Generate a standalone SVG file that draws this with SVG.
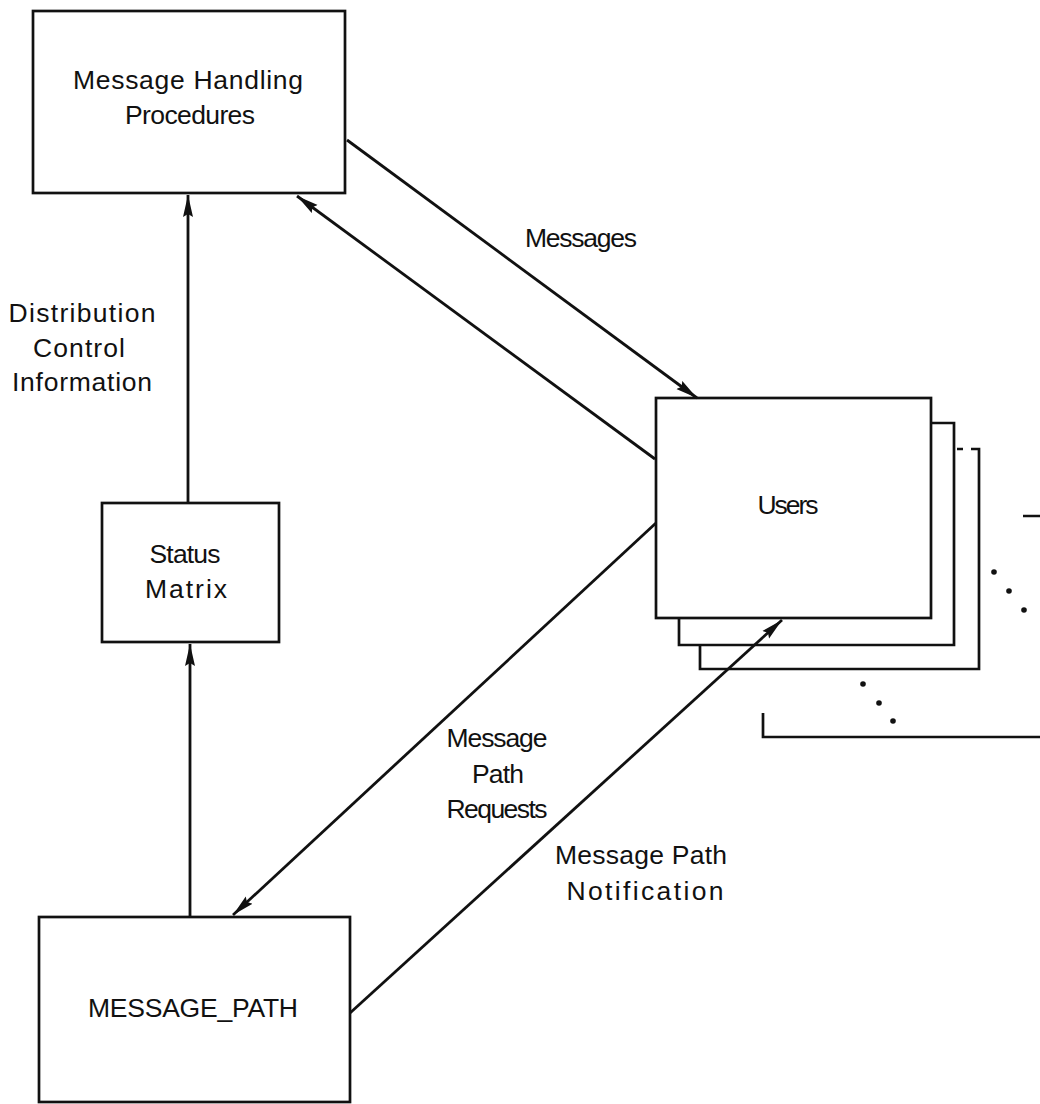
<svg xmlns="http://www.w3.org/2000/svg" width="1040" height="1104" viewBox="0 0 1040 1104">
  <defs>
    <style>
      .box { fill: none; stroke: #111; stroke-width: 2.7; }
      .edge { fill: none; stroke: #111; stroke-width: 2.8; }
      .lbl { font-family: "Liberation Sans", Arial, sans-serif; font-size: 26.5px; fill: #111; text-anchor: middle; }
      .dot { fill: #111; }
    </style>
    <marker id="arrow" markerUnits="userSpaceOnUse" markerWidth="24" markerHeight="12" refX="22" refY="6" orient="auto">
      <path d="M0,1 L22,6 L0,11 L3,6 Z" fill="#111"/>
    </marker>
  </defs>
  <rect width="1040" height="1104" fill="#ffffff"/>

  <g id="node-message-handling">
    <rect class="box" x="33" y="11" width="312" height="182"/>
    <text class="lbl" x="188" y="89" textLength="230" lengthAdjust="spacing">Message Handling</text>
    <text class="lbl" x="190" y="124" textLength="130" lengthAdjust="spacing">Procedures</text>
  </g>

  <g id="node-status-matrix">
    <rect class="box" x="102" y="503" width="177" height="139"/>
    <text class="lbl" x="185" y="563" textLength="71" lengthAdjust="spacing">Status</text>
    <text class="lbl" x="186" y="598" textLength="82" lengthAdjust="spacing">Matrix</text>
  </g>

  <g id="node-message-path">
    <rect class="box" x="39" y="917" width="311" height="185"/>
    <text class="lbl" x="193" y="1017" font-size="27.5" textLength="210" lengthAdjust="spacing">MESSAGE_PATH</text>
  </g>

  <g id="node-users">
    <path class="box" d="M931,423 H954 V645 H679 V618"/>
    <path class="box" d="M957,449 H963 M971,449 H979 V669 H700 V645"/>
    <path class="box" d="M1023,516 H1042 M1042,737 H763 V713"/>
    <circle class="dot" cx="994" cy="572" r="2.8"/>
    <circle class="dot" cx="1009" cy="591" r="2.8"/>
    <circle class="dot" cx="1024" cy="610" r="2.8"/>
    <circle class="dot" cx="863" cy="684" r="2.8"/>
    <circle class="dot" cx="879" cy="703" r="2.8"/>
    <circle class="dot" cx="893" cy="721" r="2.8"/>
    <rect class="box" x="656" y="398" width="275" height="220" fill="#ffffff"/>
    <text class="lbl" x="788" y="514" font-size="28" textLength="61" lengthAdjust="spacing">Users</text>
  </g>

  <g id="connectors">
    <path class="edge" d="M347,140 L697,398" marker-end="url(#arrow)"/>
    <path class="edge" d="M655,459 L297,196" marker-end="url(#arrow)"/>
    <path class="edge" d="M656,523 L233,915" marker-end="url(#arrow)"/>
    <path class="edge" d="M350,1013 L782,620" marker-end="url(#arrow)"/>
    <path class="edge" d="M188,503 L188,195" marker-end="url(#arrow)"/>
    <path class="edge" d="M190,917 L190,644" marker-end="url(#arrow)"/>
  </g>

  <g id="labels">
    <text class="lbl" x="581" y="247" textLength="112" lengthAdjust="spacing">Messages</text>
    <text class="lbl" x="82" y="322" font-size="27.5" textLength="147" lengthAdjust="spacing">Distribution</text>
    <text class="lbl" x="79" y="357" font-size="27.5" textLength="92" lengthAdjust="spacing">Control</text>
    <text class="lbl" x="82" y="391" font-size="27.5" textLength="140" lengthAdjust="spacing">Information</text>
    <text class="lbl" x="497" y="747" textLength="101" lengthAdjust="spacing">Message</text>
    <text class="lbl" x="498" y="783" textLength="52" lengthAdjust="spacing">Path</text>
    <text class="lbl" x="497" y="818" textLength="101" lengthAdjust="spacing">Requests</text>
    <text class="lbl" x="641" y="864" textLength="172" lengthAdjust="spacing">Message Path</text>
    <text class="lbl" x="645" y="900" textLength="157" lengthAdjust="spacing">Notification</text>
  </g>
</svg>
